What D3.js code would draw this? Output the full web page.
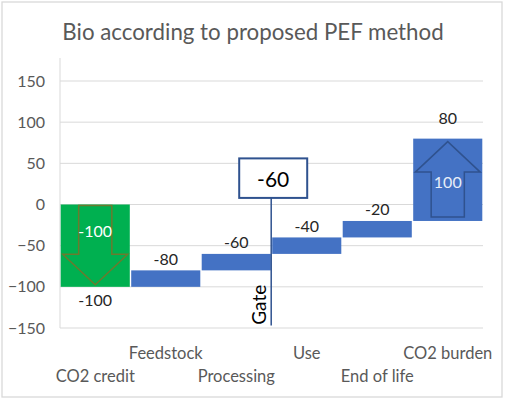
<!DOCTYPE html>
<html><head><meta charset="utf-8">
<script src="https://cdn.jsdelivr.net/npm/d3@7"></script>
<style>body{margin:0;background:#fff}svg{display:block}</style>
</head><body>
<script>
const categories = ["CO2 credit","Feedstock","Processing","Use","End of life","CO2 burden"];
const starts = [0,-100,-80,-60,-40,-20];
const ends = [-100,-80,-60,-40,-20,80];
const changeLabels = ["-100", null, null, null, null, "100"];
const totalLabels = ["-100","-80","-60","-40","-20","80"];
const yTicks = [150,100,50,0,-50,-100,-150];
const gateValue = -60;
const gateLabel = "Gate";
const title = "Bio according to proposed PEF method";

const W=506,H=400;
const svg=d3.select("body").append("svg").attr("width",W).attr("height",H);
const font="Lato, 'Open Sans', sans-serif";
svg.append("rect").attr("x",2).attr("y",2).attr("width",500).attr("height",395).attr("fill","#fff").attr("stroke","#D9D9D9").attr("stroke-width",1.3);

const y=d3.scaleLinear().domain([-150,150]).range([328,81]);
const x=d3.scaleBand().domain(categories).range([60,483]).paddingInner(0.02).paddingOuter(0.01);

svg.append("text").attr("x",253).attr("y",40).attr("text-anchor","middle").attr("font-family",font).attr("font-size",22.3).attr("fill","#595959").text(title);

// grid
svg.append("g").selectAll("line").data(yTicks).join("line")
  .attr("x1",60).attr("x2",483).attr("y1",d=>y(d)).attr("y2",d=>y(d)).attr("stroke","#D9D9D9").attr("stroke-width",1);
svg.append("line").attr("x1",60).attr("x2",60).attr("y1",58).attr("y2",y(-150)).attr("stroke","#D9D9D9");
const yAxis=d3.axisLeft(y).tickValues(yTicks).tickSize(0).tickPadding(0);
const gy=svg.append("g").attr("transform","translate(45,0)").call(yAxis);
gy.select(".domain").remove();
gy.selectAll("text").attr("font-family",font).attr("font-size",16).attr("fill","#595959");

// x labels
const xAxis=d3.axisBottom(x).tickSize(0);
const gx=svg.append("g").call(xAxis);
gx.select(".domain").remove();
gx.selectAll(".tick text").attr("font-family",font).attr("font-size",16.5).attr("fill","#595959")
  .attr("y",(d,i)=> i%2===0 ? 382 : 359).attr("dy",0);

// bars
svg.append("g").selectAll("rect").data(categories).join("rect")
  .attr("x",d=>x(d)).attr("width",x.bandwidth())
  .attr("y",(d,i)=>y(Math.max(starts[i],ends[i])))
  .attr("height",(d,i)=>Math.abs(y(starts[i])-y(ends[i])))
  .attr("fill",(d,i)=>i===0?"#00B050":"#4472C4");

// arrows
function arrow(i,dir,stroke){
  const x0=x(categories[i]), bw=x.bandwidth();
  const cx=x0+bw/2;
  const top=y(Math.max(starts[i],ends[i])), bot=y(Math.min(starts[i],ends[i]));
  const h=bot-top;
  const headW=bw*0.47, shaftW=bw*0.24, headH=h*0.37;
  let pts;
  if(dir==="down"){
    const t=top+1, b=bot-2;
    const hb=b-headH;
    pts=[[cx-shaftW,t],[cx+shaftW,t],[cx+shaftW,hb],[cx+headW,hb],[cx,b],[cx-headW,hb],[cx-shaftW,hb]];
  } else {
    const t=top+3, b=bot-4;
    const hb=t+headH;
    pts=[[cx,t],[cx+headW,hb],[cx+shaftW,hb],[cx+shaftW,b],[cx-shaftW,b],[cx-shaftW,hb],[cx-headW,hb]];
  }
  svg.append("polygon").attr("points",pts.map(p=>p.join(",")).join(" ")).attr("fill","none").attr("stroke",stroke).attr("stroke-width",1.5);
}
arrow(0,"down","#6B7A2E");
arrow(5,"up","#2F528F");

// change labels (inside)
svg.append("g").selectAll("text").data(categories).join("text")
  .filter((d,i)=>changeLabels[i]!==null)
  .attr("x",d=>x(d)+x.bandwidth()/2)
  .attr("y",d=>{const i=categories.indexOf(d);return (y(starts[i])+y(ends[i]))/2+ (i===0?-15:2);})
  .attr("text-anchor","middle").attr("dominant-baseline","central")
  .attr("font-family",font).attr("font-size",16).attr("fill",(d)=>categories.indexOf(d)===0?"#fff":"#E8EEF8")
  .text(d=>changeLabels[categories.indexOf(d)]);

// total labels
svg.append("g").selectAll("text").data(categories).join("text")
  .attr("x",d=>x(d)+x.bandwidth()/2)
  .attr("y",(d,i)=>{
    if(ends[i]<starts[i]) return y(ends[i])+13;
    if(i===categories.length-1) return y(ends[i])-21;
    return y(ends[i])-12;
  })
  .attr("text-anchor","middle").attr("dominant-baseline","central")
  .attr("font-family",font).attr("font-size",16).attr("fill","#262626")
  .text((d,i)=>totalLabels[i]);

// gate
const gi=categories.indexOf("Use");
const gx0=x(categories[gi])-1;
svg.append("line").attr("x1",gx0).attr("x2",gx0).attr("y1",y(45)).attr("y2",y(-147)).attr("stroke","#2F528F").attr("stroke-width",1.5);
svg.append("rect").attr("x",gx0-32).attr("y",y(56)).attr("width",68).attr("height",y(8)-y(56)).attr("fill","#fff").attr("stroke","#2F528F").attr("stroke-width",2);
svg.append("text").attr("x",gx0+2).attr("y",(y(56)+y(8))/2).attr("text-anchor","middle").attr("dominant-baseline","central")
  .attr("font-family",font).attr("font-size",21).attr("fill","#000").text(gateValue);
svg.append("text").attr("transform",`translate(${gx0-5},${y(-146)}) rotate(-90)`).attr("font-family",font).attr("font-size",19).attr("fill","#000").text(gateLabel);
</script>
</body></html>
